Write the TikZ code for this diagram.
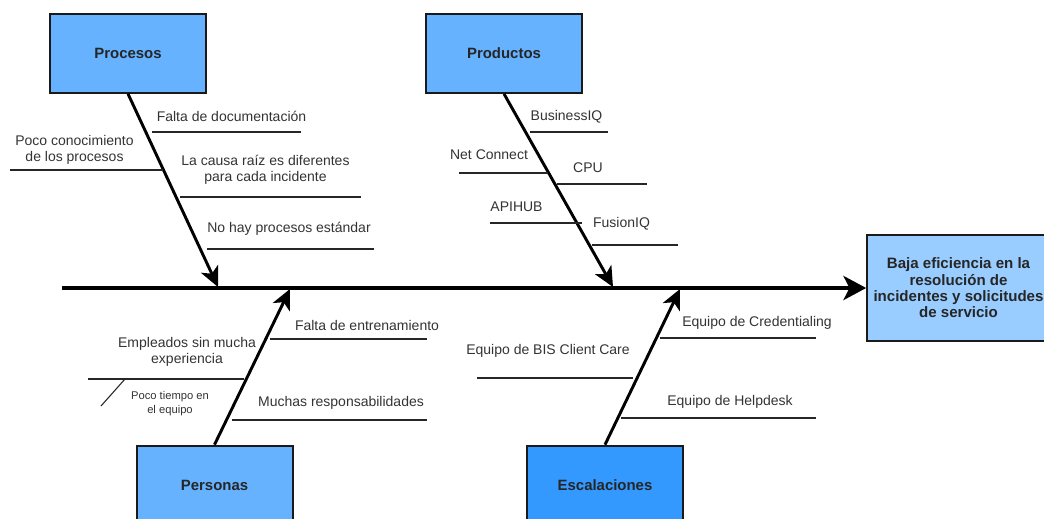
\documentclass[tikz,border=0pt]{standalone}
\usepackage{fontspec}
\setmainfont{Liberation Sans}
\usetikzlibrary{arrows.meta}
\definecolor{catblue}{HTML}{66B2FF}
\definecolor{escblue}{HTML}{3399FF}
\definecolor{effblue}{HTML}{99CCFF}
\definecolor{edge}{HTML}{1A1A1A}
\begin{document}
\begin{tikzpicture}[x=0.75pt,y=-0.75pt,
  catbox/.style={draw=edge,line width=1.5pt,fill=catblue,minimum width=117pt,minimum height=59pt,
    font=\fontsize{11.2}{13}\selectfont\bfseries, text=black!85},
  effbox/.style={draw=edge,line width=1.5pt,fill=effblue,minimum width=137pt,minimum height=79.5pt,
    align=center,font=\fontsize{11.3}{12.3}\selectfont\bfseries, text=black!85},
  spine/.style={line width=3pt,-{Stealth[length=17pt,width=18pt,inset=4.5pt]}},
  bone/.style={line width=2.2pt,-{Stealth[length=15pt,width=14pt,inset=4pt]}},
  cause/.style={line width=1.5pt,draw=black!85},
  sub/.style={line width=0.8pt,draw=black!85},
  lbl/.style={font=\fontsize{10.5}{12}\selectfont,text=black!80,align=center,inner sep=0pt},
  small/.style={font=\fontsize{8.4}{10}\selectfont,text=black!80,align=center,inner sep=0pt}]
\useasboundingbox (0,0) rectangle (1044,518);

% category boxes and the effect
\node[catbox] (proc) at (128,53.5) {Procesos};
\node[catbox] (prod) at (504,53.5) {Productos};
\node[catbox] (pers) at (214.5,485) {Personas};
\node[catbox,fill=escblue] (esc) at (605,485) {Escalaciones};
\node[effbox] (eff) at (958.5,288) {Baja eficiencia en la\\resolución de\\incidentes y solicitudes\\de servicio};

% spine
\coordinate (tail) at (62,288);
\draw[spine] (tail) -- (eff.west);

% bones
\coordinate (tproc) at (218,287);
\coordinate (tprod) at (613,287);
\coordinate (tpers) at (290,289);
\coordinate (tesc) at (680,289);
\draw[bone] (proc.south) -- (tproc);
\draw[bone] (prod.south) -- (tprod);
\draw[bone] (pers.north) -- (tpers);
\draw[bone] (esc.north) -- (tesc);

% Procesos causes
\coordinate (p1a) at (152,132); \coordinate (p1b) at (301,132);
\coordinate (p2a) at (10,170);  \coordinate (p2b) at (163,170);
\coordinate (p3a) at (180,197); \coordinate (p3b) at (361,197);
\coordinate (p4a) at (207,249); \coordinate (p4b) at (374,249);
\draw[cause] (p1a) -- (p1b);
\draw[cause] (p2a) -- (p2b);
\draw[cause] (p3a) -- (p3b);
\draw[cause] (p4a) -- (p4b);
\node[lbl] (l1) at (231.5,116) {Falta de documentación};
\node[lbl] (l2) at (74.5,150) {Poco conocimiento\\de los procesos};
\node[lbl] (l3) at (265.5,169.5) {La causa raíz es diferentes\\para cada incidente};
\node[lbl] (l4) at (289,229) {No hay procesos estándar};

% Productos causes
\coordinate (q1a) at (530,132); \coordinate (q1b) at (608,132);
\coordinate (q2a) at (459,173); \coordinate (q2b) at (548,173);
\coordinate (q3a) at (557,184); \coordinate (q3b) at (647,184);
\coordinate (q4a) at (490,223); \coordinate (q4b) at (582,223);
\coordinate (q5a) at (592,245); \coordinate (q5b) at (678,245);
\draw[cause] (q1a) -- (q1b);
\draw[cause] (q2a) -- (q2b);
\draw[cause] (q3a) -- (q3b);
\draw[cause] (q4a) -- (q4b);
\draw[cause] (q5a) -- (q5b);
\node[lbl] (m1) at (566.5,117) {BusinessIQ};
\node[lbl] (m2) at (489,155) {Net Connect};
\node[lbl] (m3) at (588,168) {CPU};
\node[lbl] (m4) at (516.5,207) {APIHUB};
\node[lbl] (m5) at (621.5,224) {FusionIQ};

% Personas causes
\coordinate (r1a) at (270,339); \coordinate (r1b) at (427,339);
\coordinate (r2a) at (88,379);  \coordinate (r2b) at (244,379);
\coordinate (r3a) at (232,420); \coordinate (r3b) at (427,420);
\coordinate (s1a) at (125,379); \coordinate (s1b) at (101,406);
\draw[cause] (r1a) -- (r1b);
\draw[cause] (r2a) -- (r2b);
\draw[cause] (r3a) -- (r3b);
\draw[sub] (s1a) -- (s1b);
\node[lbl] (n1) at (367,325) {Falta de entrenamiento};
\node[lbl] (n2) at (187,351.5) {Empleados sin mucha\\experiencia};
\node[small] (n3) at (170,403.5) {Poco tiempo en\\el equipo};
\node[lbl] (n4) at (341,403) {Muchas responsabilidades};

% Escalaciones causes
\coordinate (e1a) at (660,338); \coordinate (e1b) at (816,338);
\coordinate (e2a) at (477,378); \coordinate (e2b) at (633,378);
\coordinate (e3a) at (621,418); \coordinate (e3b) at (816,418);
\draw[cause] (e1a) -- (e1b);
\draw[cause] (e2a) -- (e2b);
\draw[cause] (e3a) -- (e3b);
\node[lbl] (k1) at (757,323) {Equipo de Credentialing};
\node[lbl] (k2) at (548,351) {Equipo de BIS Client Care};
\node[lbl] (k3) at (730,402) {Equipo de Helpdesk};
\end{tikzpicture}
\end{document}
